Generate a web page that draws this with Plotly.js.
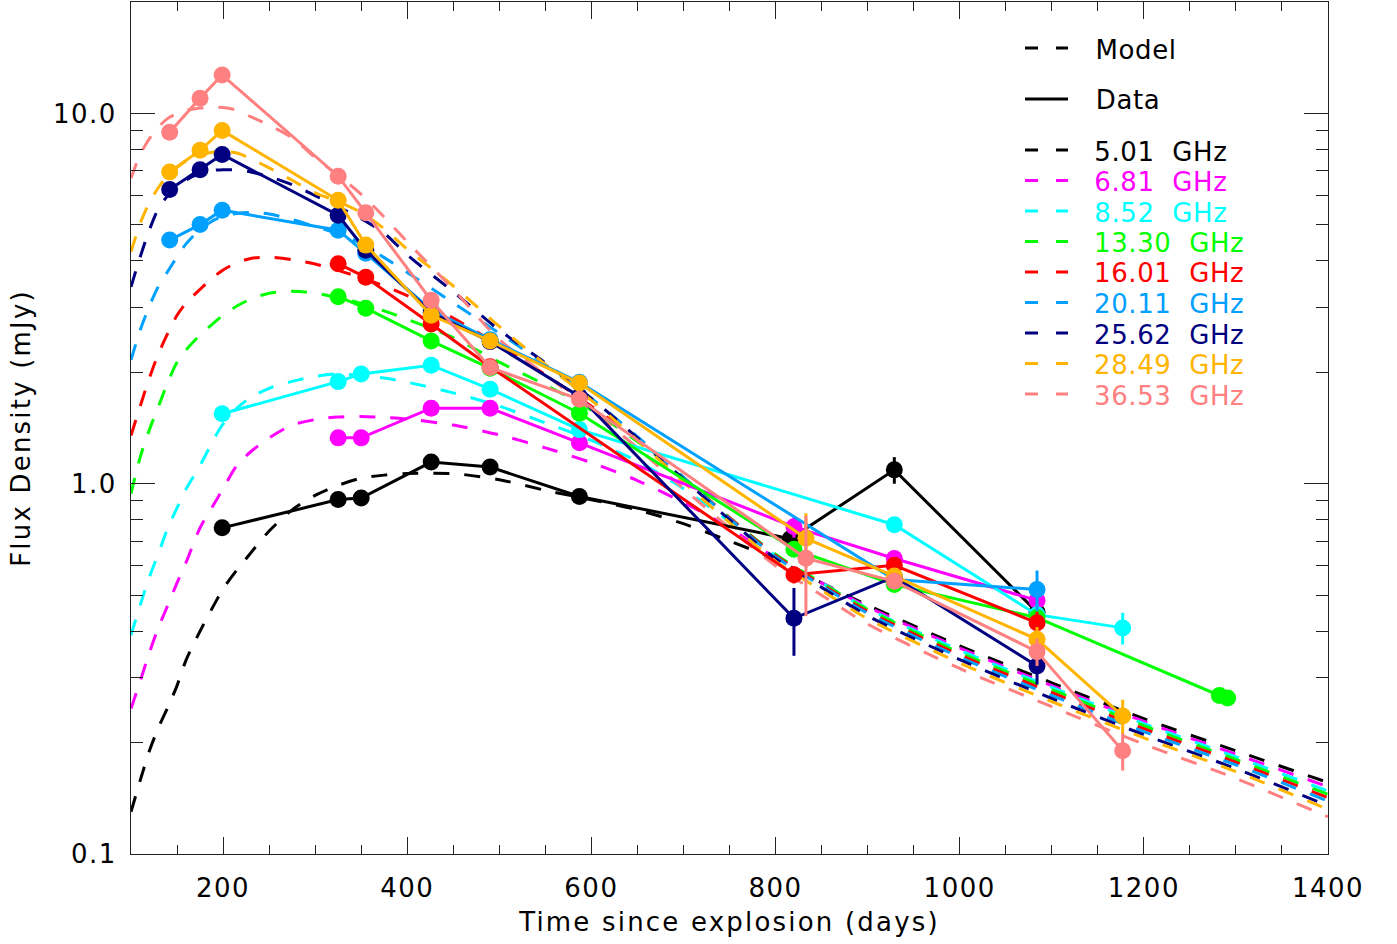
<!DOCTYPE html>
<html>
<head>
<meta charset="utf-8">
<script src="https://cdn.plot.ly/plotly-3.0.1.min.js"></script>
<style>
  html, body { margin: 0; padding: 0; background: #fff; }
  #chart { width: 1397px; height: 944px; }
  #chart .xtitle, #chart .ytitle { letter-spacing: 2.2px; }
  #chart .xtick text, #chart .ytick text { letter-spacing: 1.5px; }
  #chart .annotation-text { letter-spacing: 0.6px; }
</style>
</head>
<body>
<div id="chart"></div>
<script>
// ---------------- data ----------------
const freqLabels = ['5.01', '6.81', '8.52', '13.30', '16.01', '20.11', '25.62', '28.49', '36.53'];
const colors = ['#000000', '#FF00FF', '#00FFFF', '#00FF00', '#FF0000', '#00A0FF', '#000080', '#FFB400', '#FF8080'];

// model light curves (days since explosion, flux in mJy)
const modelDays = [100, 110, 120, 130, 140, 150, 160, 175, 190, 200, 215, 230, 250, 275, 300, 325, 350, 375, 400, 450, 500, 550, 600, 650, 700, 750, 800, 850, 900, 1000, 1100, 1200, 1300, 1400];
const model_501 = [0.13, 0.158, 0.19, 0.22, 0.249, 0.285, 0.335, 0.40, 0.47, 0.52, 0.585, 0.65, 0.745, 0.85, 0.93, 0.99, 1.035, 1.055, 1.065, 1.065, 1.025, 0.96, 0.905, 0.85, 0.78, 0.70, 0.625, 0.54, 0.47, 0.365, 0.29, 0.232, 0.19, 0.156];
const model_681 = [0.247, 0.293, 0.35, 0.41, 0.47, 0.54, 0.615, 0.76, 0.88, 0.97, 1.12, 1.22, 1.33, 1.44, 1.49, 1.515, 1.52, 1.51, 1.495, 1.44, 1.355, 1.25, 1.14, 1.02, 0.89, 0.76, 0.63, 0.54, 0.465, 0.36, 0.285, 0.228, 0.186, 0.152];
const model_852 = [0.39, 0.47, 0.56, 0.65, 0.76, 0.86, 0.97, 1.12, 1.32, 1.45, 1.60, 1.71, 1.81, 1.89, 1.95, 1.98, 1.96, 1.93, 1.88, 1.76, 1.62, 1.46, 1.31, 1.15, 0.97, 0.79, 0.64, 0.54, 0.46, 0.355, 0.282, 0.225, 0.183, 0.148];
const model_1330 = [0.94, 1.18, 1.40, 1.62, 1.88, 2.13, 2.30, 2.52, 2.72, 2.85, 3.02, 3.15, 3.27, 3.31, 3.27, 3.18, 3.07, 2.93, 2.78, 2.48, 2.13, 1.85, 1.58, 1.30, 1.04, 0.81, 0.645, 0.54, 0.458, 0.35, 0.278, 0.222, 0.18, 0.145];
const model_1601 = [1.35, 1.62, 1.93, 2.25, 2.55, 2.85, 3.08, 3.35, 3.62, 3.78, 3.95, 4.06, 4.09, 4.03, 3.92, 3.77, 3.60, 3.42, 3.22, 2.80, 2.36, 1.97, 1.62, 1.32, 1.04, 0.81, 0.64, 0.535, 0.452, 0.345, 0.273, 0.218, 0.177, 0.142];
const model_2011 = [2.16, 2.60, 3.02, 3.42, 3.75, 4.10, 4.45, 4.86, 5.15, 5.27, 5.37, 5.40, 5.35, 5.17, 4.95, 4.73, 4.45, 4.08, 3.72, 3.08, 2.55, 2.10, 1.70, 1.34, 1.04, 0.805, 0.635, 0.53, 0.447, 0.34, 0.268, 0.214, 0.174, 0.139];
const model_2562 = [3.40, 4.10, 4.85, 5.55, 6.00, 6.35, 6.62, 6.88, 7.02, 7.05, 7.03, 6.95, 6.75, 6.42, 6.00, 5.60, 5.20, 4.75, 4.15, 3.30, 2.60, 2.12, 1.70, 1.33, 1.03, 0.80, 0.628, 0.525, 0.44, 0.335, 0.263, 0.21, 0.17, 0.135];
const model_2849 = [4.23, 5.05, 5.75, 6.32, 6.80, 7.15, 7.45, 7.72, 7.87, 7.90, 7.82, 7.55, 7.13, 6.60, 6.10, 5.78, 5.40, 4.88, 4.30, 3.42, 2.66, 2.10, 1.68, 1.31, 1.01, 0.785, 0.618, 0.515, 0.432, 0.328, 0.258, 0.206, 0.167, 0.132];
const model_3653 = [6.68, 7.75, 8.55, 9.20, 9.70, 10.0, 10.2, 10.35, 10.4, 10.38, 10.2, 9.80, 9.30, 8.60, 7.60, 6.80, 6.05, 5.25, 4.50, 3.35, 2.45, 1.97, 1.58, 1.25, 0.97, 0.76, 0.60, 0.50, 0.418, 0.317, 0.25, 0.198, 0.16, 0.126];

// observed flux densities, with 1-sigma errors
const t_501 = [199, 325, 350, 426, 490, 587, 816, 929, 1084];
const f_501 = [0.76, 0.906, 0.915, 1.144, 1.109, 0.924, 0.71, 1.09, 0.45];
const e_501 = [0.02, 0.02, 0.02, 0.02, 0.02, 0.02, 0.02, 0.09, 0.03];

const t_681 = [325, 350, 426, 490, 587, 820, 929, 1084];
const f_681 = [1.33, 1.33, 1.60, 1.60, 1.29, 0.765, 0.628, 0.484];
const e_681 = [0.03, 0.03, 0.03, 0.03, 0.03, 0.05, 0.02, 0.04];

const t_852 = [199, 325, 350, 426, 490, 587, 929, 1084, 1177];
const f_852 = [1.545, 1.887, 1.98, 2.09, 1.80, 1.40, 0.775, 0.443, 0.408];
const e_852 = [0.04, 0.04, 0.04, 0.04, 0.04, 0.03, 0.02, 0.03, 0.04];

const t_1330 = [325, 355, 426, 490, 587, 820, 929, 1084, 1282, 1291];
const f_1330 = [3.20, 2.98, 2.43, 2.05, 1.55, 0.665, 0.534, 0.435, 0.268, 0.264];
const e_1330 = [0.06, 0.06, 0.05, 0.04, 0.03, 0.03, 0.02, 0.02, 0.01, 0.01];

const t_1601 = [325, 355, 426, 490, 820, 929, 1084];
const f_1601 = [3.93, 3.61, 2.70, 2.07, 0.568, 0.602, 0.421];
const e_1601 = [0.08, 0.07, 0.05, 0.04, 0.03, 0.02, 0.03];

const t_2011 = [142, 175, 199, 325, 355, 426, 490, 587, 929, 1084];
const f_2011 = [4.55, 5.01, 5.48, 4.84, 4.19, 2.95, 2.45, 1.88, 0.551, 0.518];
const e_2011 = [0.09, 0.1, 0.1, 0.1, 0.08, 0.06, 0.05, 0.04, 0.02, 0.065];

const t_2562 = [142, 175, 199, 325, 355, 426, 490, 587, 820, 929, 1084];
const f_2562 = [6.23, 7.05, 7.75, 5.31, 4.27, 2.90, 2.42, 1.72, 0.433, 0.56, 0.322];
const e_2562 = [0.15, 0.15, 0.15, 0.1, 0.08, 0.06, 0.05, 0.04, 0.09, 0.02, 0.035];

const t_2849 = [142, 175, 199, 325, 355, 426, 490, 587, 833, 929, 1084, 1177];
const f_2849 = [6.95, 7.95, 9.0, 5.83, 4.41, 2.85, 2.43, 1.87, 0.712, 0.563, 0.38, 0.236];
const e_2849 = [0.15, 0.15, 0.18, 0.12, 0.09, 0.06, 0.05, 0.04, 0.12, 0.02, 0.03, 0.025];

const t_3653 = [142, 175, 199, 325, 355, 426, 490, 587, 833, 929, 1084, 1177];
const f_3653 = [8.9, 11.0, 12.7, 6.77, 5.39, 3.13, 2.06, 1.69, 0.629, 0.545, 0.352, 0.19];
const e_3653 = [0.2, 0.2, 0.25, 0.14, 0.11, 0.07, 0.05, 0.04, 0.19, 0.02, 0.03, 0.022];

const xTickVals = [200, 400, 600, 800, 1000, 1200, 1400];
const yTickVals = [0.1, 1, 10];
const yTickText = ['0.1', '1.0', '10.0'];
const yMinorVals = [0.2, 0.3, 0.4, 0.5, 0.6, 0.7, 0.8, 0.9, 2, 3, 4, 5, 6, 7, 8, 9];

// ---------------- build ----------------
const models = [model_501, model_681, model_852, model_1330, model_1601, model_2011, model_2562, model_2849, model_3653];
const obsT = [t_501, t_681, t_852, t_1330, t_1601, t_2011, t_2562, t_2849, t_3653];
const obsF = [f_501, f_681, f_852, f_1330, f_1601, f_2011, f_2562, f_2849, f_3653];
const obsE = [e_501, e_681, e_852, e_1330, e_1601, e_2011, e_2562, e_2849, e_3653];

const FONT = 'DejaVu Sans, Verdana, sans-serif';
const traces = [];
models.forEach((m, i) => {
  traces.push({
    type: 'scatter', mode: 'lines', x: modelDays, y: m,
    line: {color: colors[i], width: 3, dash: '16px,15px', shape: 'spline', smoothing: 0.8},
    hoverinfo: 'skip', showlegend: false
  });
});
obsT.forEach((t, i) => {
  traces.push({
    type: 'scatter', mode: 'lines+markers', x: t, y: obsF[i],
    line: {color: colors[i], width: 3},
    marker: {color: colors[i], size: 17, line: {width: 0}},
    error_y: {type: 'data', array: obsE[i], visible: true, color: colors[i], thickness: 3, width: 0},
    name: freqLabels[i] + ' GHz', showlegend: false
  });
});

// hand-drawn legend (IDL style)
const W = 1397, H = 944, L = 131, R = 69, T = 2, B = 90;
const pw = W - L - R, ph = H - T - B;
const px = v => (v - L) / pw;
const py = v => (H - B - v) / ph;
const shapes = [];
const annotations = [];
function legendRow(yPix, color, dashed, text, textColor) {
  if (dashed) {
    shapes.push({type: 'line', xref: 'paper', yref: 'paper', x0: px(1025), x1: px(1038), y0: py(yPix), y1: py(yPix), line: {color: color, width: 3}});
    shapes.push({type: 'line', xref: 'paper', yref: 'paper', x0: px(1056), x1: px(1068), y0: py(yPix), y1: py(yPix), line: {color: color, width: 3}});
  } else {
    shapes.push({type: 'line', xref: 'paper', yref: 'paper', x0: px(1025), x1: px(1068), y0: py(yPix), y1: py(yPix), line: {color: color, width: 3}});
  }
  annotations.push({xref: 'paper', yref: 'paper', x: px(1095), y: py(yPix + 1.5), xanchor: 'left', yanchor: 'middle',
    text: text, showarrow: false, font: {family: FONT, size: 26, color: textColor}});
}
legendRow(48, '#000000', true, 'Model', '#000000');
legendRow(99, '#000000', false, 'Data', '#000000');
freqLabels.forEach((f, i) => {
  legendRow(150 + i * 30.5, colors[i], true, f + '\u00A0\u00A0GHz', colors[i]);
});

const layout = {
  width: W, height: H,
  margin: {l: L, r: R, t: T, b: B},
  paper_bgcolor: '#ffffff', plot_bgcolor: '#ffffff',
  showlegend: false,
  font: {family: FONT, size: 26, color: '#000000'},
  xaxis: {
    range: [100, 1400], tickmode: 'array', tickvals: xTickVals,
    ticks: 'inside', ticklen: 17, tickwidth: 1, tickcolor: '#222',
    showline: true, linecolor: '#222', linewidth: 1, mirror: 'ticks',
    showgrid: false, zeroline: false,
    minor: {dtick: 50, tick0: 0, ticks: 'inside', ticklen: 9, tickwidth: 1, tickcolor: '#222', showgrid: false},
    tickfont: {family: FONT, size: 26, color: '#000'},
    ticklabelstandoff: 11,
    title: {text: 'Time since explosion (days)', font: {family: FONT, size: 26, color: '#000'}, standoff: 10}
  },
  yaxis: {
    type: 'log', range: [-1, Math.log10(20)], tickmode: 'array', tickvals: yTickVals, ticktext: yTickText,
    ticks: 'inside', ticklen: 24, tickwidth: 1, tickcolor: '#222',
    showline: true, linecolor: '#222', linewidth: 1, mirror: 'ticks',
    showgrid: false, zeroline: false,
    minor: {tickmode: 'array', tickvals: yMinorVals, ticks: 'inside', ticklen: 12, tickwidth: 1, tickcolor: '#222', showgrid: false},
    tickfont: {family: FONT, size: 26, color: '#000'},
    ticklabelstandoff: 8,
    title: {text: 'Flux Density (mJy)', font: {family: FONT, size: 26, color: '#000'}, standoff: 20}
  },
  shapes: shapes,
  annotations: annotations
};

Plotly.newPlot('chart', traces, layout, {staticPlot: true, displayModeBar: false});
</script>
</body>
</html>
